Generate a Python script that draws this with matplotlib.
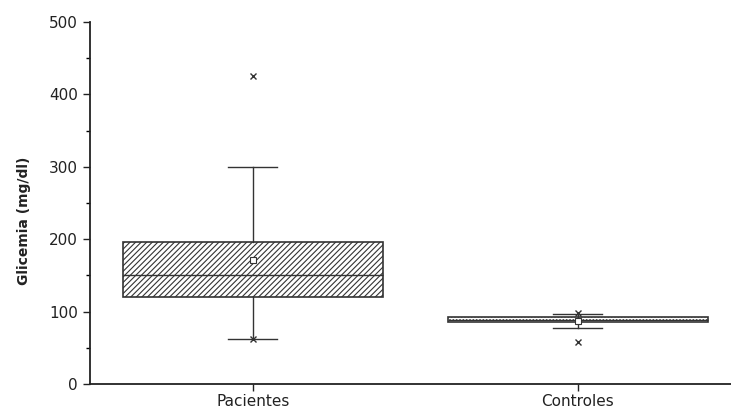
import matplotlib
matplotlib.use("Agg")
import matplotlib.pyplot as plt

plt.rcParams['font.family'] = ['DejaVu Sans']
plt.rcParams['hatch.linewidth'] = 0.8

categories = ["Pacientes", "Controles"]
q1 = [120, 86]
median = [151, 89]
q3 = [196, 92]
whislo = [62, 77]
whishi = [300, 97]
mean = [171, 87]
minmax_marks = [[62, 426], [98, 58]]
hatches = ['//////', '.....']

fig = plt.figure(figsize=(7.31, 4.08), dpi=100)
ax = fig.add_axes([0.123, 0.059, 0.877, 0.887])

stats = []
for i, c in enumerate(categories):
    stats.append(dict(label=c, q1=q1[i], med=median[i], q3=q3[i],
                      whislo=whislo[i], whishi=whishi[i], mean=mean[i], fliers=[]))

positions = [1, 2]
bp = ax.bxp(stats, positions=positions, widths=0.8, patch_artist=True, showmeans=True,
            showfliers=False,
            boxprops=dict(facecolor='white', edgecolor='#333333', linewidth=1.2),
            medianprops=dict(color='#333333', linewidth=1.0),
            whiskerprops=dict(color='#333333', linewidth=1.0),
            capprops=dict(color='#333333', linewidth=1.0),
            capwidths=0.15,
            meanprops=dict(marker='s', markersize=4, markerfacecolor='white',
                           markeredgecolor='#333333', markeredgewidth=0.8))
for patch, h in zip(bp['boxes'], hatches):
    patch.set_hatch(h)

for p, marks in zip(positions, minmax_marks):
    ax.plot([p] * len(marks), marks, linestyle='none', marker='x', markersize=4,
            color='#333333', markeredgewidth=1.0)

ax.set_xlim(0.499, 2.471)
ax.set_ylim(0, 500)
ax.set_yticks([0, 100, 200, 300, 400, 500])
ax.set_yticks([50, 150, 250, 350, 450], minor=True)
ax.set_xticks(positions)
ax.set_xticklabels(categories)
ax.spines['top'].set_visible(False)
ax.spines['right'].set_visible(False)
for s in ['left', 'bottom']:
    ax.spines[s].set_linewidth(1.3)
    ax.spines[s].set_color('#222222')
ax.tick_params(axis='both', which='major', length=5, width=1.0, labelsize=11,
               colors='#222222', direction='out')
ax.tick_params(axis='x', which='major', pad=2)
ax.tick_params(axis='y', which='minor', length=3, width=1.0, direction='out')
ax.set_ylabel('Glicemia (mg/dl)', fontsize=10, fontweight='bold', color='#222222')
ax.yaxis.set_label_coords(-0.092, 0.45)

fig.savefig('out.png', dpi=100)
